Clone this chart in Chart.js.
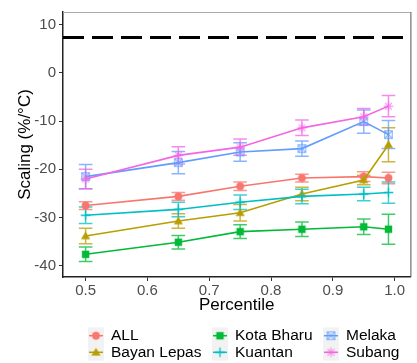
<!DOCTYPE html>
<html>
<head>
<meta charset="utf-8">
<script src="https://cdn.jsdelivr.net/npm/chart.js"></script>
<style>
  body { margin: 0; background: #fff; }
  #wrap { width: 417px; height: 363px; }
</style>
</head>
<body>
<div id="wrap"><canvas id="scaling" width="417" height="363"></canvas></div>
<script>
// percentiles on the x axis
const percentiles = [0.5, 0.65, 0.75, 0.85, 0.95, 0.99];

// scaling (%/°C) and half-width of the error bars, per station
const allVals = [-27.5, -25.6, -23.5, -21.8, -21.5, -21.8];
const allErr = [0.8, 0.8, 0.9, 0.8, 1.0, 1.2];
const bayanVals = [-33.8, -30.7, -29.0, -25.1, -22.2, -14.9];
const bayanErr = [1.6, 1.5, 1.7, 1.4, 1.0, 3.5];
const kotaVals = [-37.6, -35.1, -32.9, -32.4, -31.9, -32.4];
const kotaErr = [1.5, 1.4, 1.4, 1.5, 1.6, 3.1];
const kuantanVals = [-29.5, -28.3, -26.8, -25.6, -25.1, -24.8];
const kuantanErr = [1.7, 1.5, 1.5, 1.5, 1.4, 2.2];
const melakaVals = [-21.5, -18.6, -16.4, -15.7, -10.1, -12.8];
const melakaErr = [2.5, 2.3, 1.9, 1.6, 2.4, 2.9];
const subangVals = [-22.0, -17.1, -15.4, -11.4, -9.1, -6.9];
const subangErr = [2.0, 1.8, 1.7, 1.6, 1.7, 2.2];

const seriesNames = ['ALL', 'Bayan Lepas', 'Kota Bharu', 'Kuantan', 'Melaka', 'Subang'];

// reference line (Clausius-Clapeyron ~7 %/°C)
const refLine = 7.3;

const xTicks = [0.5, 0.6, 0.7, 0.8, 0.9, 1.0];
const yTicks = [-40, -30, -20, -10, 0, 10];

const colors = ['#F8766D', '#B79F00', '#00BA38', '#00BFC4', '#619CFF', '#F564E3'];
const shapes = ['circle', 'triangle', 'square', 'plus', 'squareCross', 'star'];

function rgba(hex, a) {
  const n = parseInt(hex.slice(1), 16);
  return `rgba(${n >> 16},${(n >> 8) & 255},${n & 255},${a})`;
}

// small canvases used as point markers (chart and legend)
function makeMarker(shape, color) {
  const s = 13, c = document.createElement('canvas');
  c.width = s; c.height = s;
  const g = c.getContext('2d');
  const m = s / 2;
  g.fillStyle = color;
  g.strokeStyle = color;
  g.lineWidth = 1.3;
  if (shape === 'circle') {
    g.beginPath(); g.arc(m, m, 3.9, 0, Math.PI * 2); g.fill();
  } else if (shape === 'triangle') {
    g.beginPath(); g.moveTo(m, m - 4.6); g.lineTo(m + 4.6, m + 3.2); g.lineTo(m - 4.6, m + 3.2); g.closePath(); g.fill();
  } else if (shape === 'square') {
    g.fillRect(m - 3.7, m - 3.7, 7.4, 7.4);
  } else if (shape === 'plus') {
    g.beginPath(); g.moveTo(m - 4.8, m); g.lineTo(m + 4.8, m); g.moveTo(m, m - 4.8); g.lineTo(m, m + 4.8); g.stroke();
  } else if (shape === 'squareCross') {
    g.strokeStyle = rgba(color, 0.65);
    g.strokeRect(m - 3.8, m - 3.8, 7.6, 7.6);
    g.beginPath(); g.moveTo(m - 3.8, m - 3.8); g.lineTo(m + 3.8, m + 3.8); g.moveTo(m + 3.8, m - 3.8); g.lineTo(m - 3.8, m + 3.8); g.stroke();
  } else if (shape === 'star') {
    g.strokeStyle = rgba(color, 0.65);
    g.beginPath();
    g.moveTo(m - 4.8, m); g.lineTo(m + 4.8, m); g.moveTo(m, m - 4.8); g.lineTo(m, m + 4.8);
    g.moveTo(m - 3.4, m - 3.4); g.lineTo(m + 3.4, m + 3.4); g.moveTo(m + 3.4, m - 3.4); g.lineTo(m - 3.4, m + 3.4);
    g.stroke();
  }
  return c;
}

const allSeries = [
  [allVals, allErr], [bayanVals, bayanErr], [kotaVals, kotaErr],
  [kuantanVals, kuantanErr], [melakaVals, melakaErr], [subangVals, subangErr]
];
const markers = shapes.map((s, i) => makeMarker(s, colors[i]));

const datasets = allSeries.map(([vals], i) => ({
  label: seriesNames[i],
  data: percentiles.map((p, j) => ({ x: p, y: vals[j] })),
  borderColor: colors[i],
  backgroundColor: colors[i],
  borderWidth: 1.6,
  pointStyle: markers[i],
  pointRadius: 5,
  tension: 0,
  order: seriesNames.length - i
}));

const FONT = 'Liberation Sans, Arial, sans-serif';

const extras = {
  id: 'extras',
  beforeDatasetsDraw(chart) {
    const { ctx, chartArea: a, scales: { x, y } } = chart;
    ctx.save();
    ctx.beginPath();
    ctx.rect(a.left, a.top, a.right - a.left, a.bottom - a.top);
    ctx.clip();
    // dashed reference line
    const ry = y.getPixelForValue(refLine);
    ctx.strokeStyle = '#000';
    ctx.lineWidth = 3;
    ctx.setLineDash([21, 8]);
    ctx.beginPath(); ctx.moveTo(a.left, ry); ctx.lineTo(a.right, ry); ctx.stroke();
    ctx.setLineDash([]);
    // error bars
    allSeries.forEach(([vals, errs], i) => {
      ctx.strokeStyle = rgba(colors[i], 0.75);
      ctx.lineWidth = 1.5;
      percentiles.forEach((p, j) => {
        const px = x.getPixelForValue(p);
        const hw = x.getPixelForValue(p + 0.011) - px;
        const t = y.getPixelForValue(vals[j] + errs[j]);
        const b = y.getPixelForValue(vals[j] - errs[j]);
        ctx.beginPath();
        ctx.moveTo(px - hw, t); ctx.lineTo(px + hw, t);
        ctx.moveTo(px, t); ctx.lineTo(px, b);
        ctx.moveTo(px - hw, b); ctx.lineTo(px + hw, b);
        ctx.stroke();
      });
    });
    ctx.restore();
  },
  afterDraw(chart) {
    const { ctx, chartArea: a } = chart;
    ctx.save();
    // remaining panel border
    ctx.strokeStyle = '#AAAAAA';
    ctx.lineWidth = 1;
    ctx.beginPath(); ctx.moveTo(a.left, a.top + 0.5); ctx.lineTo(a.right, a.top + 0.5); ctx.stroke();
    ctx.strokeStyle = '#555';
    ctx.beginPath(); ctx.moveTo(a.right + 0.5, a.top); ctx.lineTo(a.right + 0.5, a.bottom); ctx.stroke();
    // legend: 3 columns x 2 rows, column-major
    const keyX = [96, 220, 331];
    const textX = [111, 235, 346];
    const rowY = [335.7, 352.3];
    ctx.font = '15.5px ' + FONT;
    ctx.textBaseline = 'middle';
    ctx.textAlign = 'left';
    seriesNames.forEach((name, i) => {
      const col = Math.floor(i / 2), row = i % 2;
      const kx = keyX[col], ky = rowY[row];
      ctx.fillStyle = '#F2F2F2';
      ctx.fillRect(kx - 8, ky - 8.3, 16, 16.6);
      ctx.strokeStyle = colors[i];
      ctx.lineWidth = 1.5;
      ctx.beginPath(); ctx.moveTo(kx - 7, ky); ctx.lineTo(kx + 7, ky); ctx.stroke();
      const mk = markers[i];
      ctx.drawImage(mk, kx - mk.width / 2, ky - mk.height / 2);
      ctx.fillStyle = '#000';
      ctx.fillText(name, textX[col], ky + 0.5);
    });
    ctx.restore();
  }
};

new Chart(document.getElementById('scaling'), {
  type: 'line',
  data: { datasets },
  options: {
    responsive: false,
    animation: false,
    devicePixelRatio: 1,
    layout: { padding: { left: 0, right: 1, top: 8, bottom: 36 } },
    plugins: { legend: { display: false }, tooltip: { enabled: false } },
    scales: {
      x: {
        type: 'linear',
        min: 0.4634,
        max: 1.0255,
        afterBuildTicks: s => { s.ticks = xTicks.map(v => ({ value: v })); },
        afterFit: s => { s.height = 50; },
        grid: { drawOnChartArea: false, drawTicks: true, tickLength: 4, color: '#333' },
        border: { display: true, color: '#222', width: 1.5 },
        ticks: {
          color: '#4D4D4D', padding: 1, maxRotation: 0,
          font: { family: FONT, size: 15 },
          callback: v => Number(v).toFixed(1)
        },
        title: {
          display: true, text: 'Percentile', color: '#000',
          font: { family: FONT, size: 17 }, padding: { top: 0, bottom: 11 }
        }
      },
      y: {
        type: 'linear',
        min: -42.3,
        max: 12.6,
        afterBuildTicks: s => { s.ticks = yTicks.map(v => ({ value: v })); },
        afterFit: s => { s.width = 63; },
        grid: { drawOnChartArea: false, drawTicks: true, tickLength: 4, color: '#333' },
        border: { display: true, color: '#222', width: 1.5 },
        ticks: {
          color: '#4D4D4D', padding: 3,
          font: { family: FONT, size: 15 },
          callback: v => String(v)
        },
        title: {
          display: true, text: 'Scaling (%/°C)', color: '#000',
          font: { family: FONT, size: 17 }, padding: { top: 15, bottom: 0 }
        }
      }
    }
  },
  plugins: [extras]
});
</script>
</body>
</html>
